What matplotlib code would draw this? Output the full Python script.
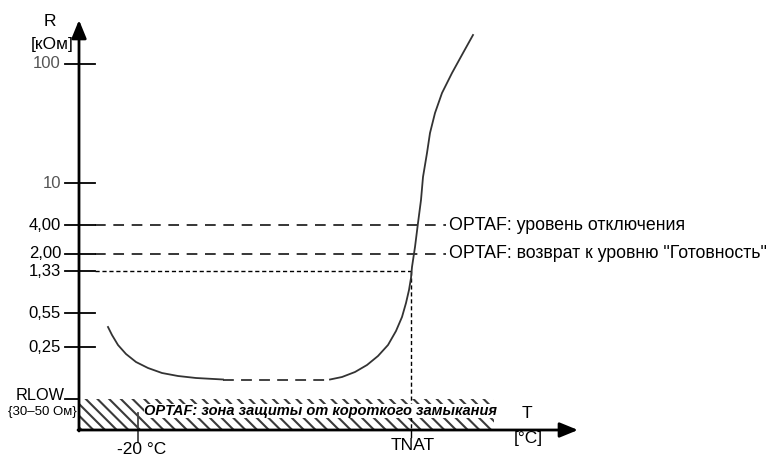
import numpy as np
import matplotlib.pyplot as plt
from matplotlib.patches import Rectangle

plt.rcParams['font.family'] = ['Liberation Sans', 'DejaVu Sans']

# schematic chart, coordinates are picture positions (x right, y down)
tick_labels = ['100', '10', '4,00', '2,00', '1,33', '0,55', '0,25']
tick_pos = [64, 183, 225, 254, 271, 313, 347]
tick_colors = ['#555555', '#555555', 'black', 'black', 'black', 'black', 'black']

rlow_pos = 399
axis_x0 = 79
axis_y0 = 430

# curve R(T)
left_x = [108, 112, 118, 126, 136, 148, 162, 178, 196, 214, 223]
left_y = [327, 335, 345, 354, 362, 368, 373, 376, 378, 379, 379.5]
mid_x = [223, 330]
mid_y = [379.5, 379.5]
right_x = [330, 342, 355, 367, 378, 388, 396, 402, 406, 409, 411, 412, 415, 418,
           421, 423, 427, 430, 435, 442, 452, 463, 473]
right_y = [379.5, 377, 372, 365, 356, 345, 331, 317, 303, 290, 278, 267, 247, 223,
           200, 177, 153, 133, 113, 93, 73, 53, 35]

tnat_x = 411
minus20_x = 138
level_labels = ['OPTAF: уровень отключения', 'OPTAF: возврат к уровню "Готовность"']
level_pos = [225, 254]

fig = plt.figure(figsize=(7.76, 4.62), dpi=100)
ax = fig.add_axes([0, 0, 1, 1])
ax.set_xlim(0, 776)
ax.set_ylim(462, 0)
ax.axis('off')

# hatched short-circuit zone
band = Rectangle((axis_x0, rlow_pos), 494 - axis_x0, axis_y0 - rlow_pos,
                 facecolor='white', edgecolor='none')
ax.add_patch(band)
for x0 in np.arange(axis_x0 - 40, 500, 11.7):
    ln, = ax.plot([x0, x0 + 31], [rlow_pos, axis_y0], color='#3a3a3a', lw=1.5)
    ln.set_clip_path(band)
ax.text(144, 411, 'OPTAF: зона защиты от короткого замыкания', fontsize=10.5,
        fontweight='bold', style='italic', va='center', ha='left',
        bbox=dict(facecolor='white', edgecolor='none', pad=0.3))

# axes arrows
ax.annotate('', xy=(axis_x0, 20), xytext=(axis_x0, axis_y0 + 1),
            arrowprops=dict(arrowstyle='-|>,head_length=1.1,head_width=0.45',
                            color='black', lw=2, shrinkA=0, shrinkB=0))
ax.annotate('', xy=(578, axis_y0), xytext=(axis_x0 - 1, axis_y0),
            arrowprops=dict(arrowstyle='-|>,head_length=1.1,head_width=0.45',
                            color='black', lw=2, shrinkA=0, shrinkB=0))

# y ticks
for lab, p, c in zip(tick_labels, tick_pos, tick_colors):
    ax.plot([65, 95], [p, p], color='black', lw=1.3)
    ax.text(61, p, lab, ha='right', va='center', fontsize=12, color=c)
ax.plot([65, axis_x0], [rlow_pos, rlow_pos], color='black', lw=1.3)
ax.text(65, rlow_pos - 4, 'RLOW', ha='right', va='center', fontsize=11.7)
ax.text(77, 412, '{30–50 Ом}', ha='right', va='center', fontsize=9.5)

# threshold lines
for lab, p in zip(level_labels, level_pos):
    ax.plot([95, 446], [p, p], color='black', lw=1.1, dashes=(7, 5))
    ax.text(449, p, lab, ha='left', va='center', fontsize=12.8)
ax.plot([95, tnat_x], [271, 271], color='black', lw=1, dashes=(3, 2))
ax.plot([tnat_x, tnat_x], [271, axis_y0], color='black', lw=1, dashes=(3, 2))

# curve
ax.plot(left_x, left_y, color='#333333', lw=1.3)
ax.plot(mid_x, mid_y, color='#333333', lw=1.3, dashes=(6, 4))
ax.plot(right_x, right_y, color='#333333', lw=1.3)

# x ticks and labels
ax.plot([minus20_x, minus20_x], [413, 442], color='#444444', lw=1.3)
ax.text(142, 450, '-20 °C', ha='center', va='center', fontsize=12.5)
ax.plot([tnat_x, tnat_x], [axis_y0, 437], color='black', lw=1)
ax.text(413, 445, 'TNAT', ha='center', va='center', fontsize=12.5)
ax.text(527, 414, 'T', ha='center', va='center', fontsize=12.5)
ax.text(528, 439, '[°C]', ha='center', va='center', fontsize=12.5)
ax.text(50, 22, 'R', ha='center', va='center', fontsize=12.5)
ax.text(52, 44, '[кОм]', ha='center', va='center', fontsize=12.5)

fig.savefig('out.png', dpi=100)
